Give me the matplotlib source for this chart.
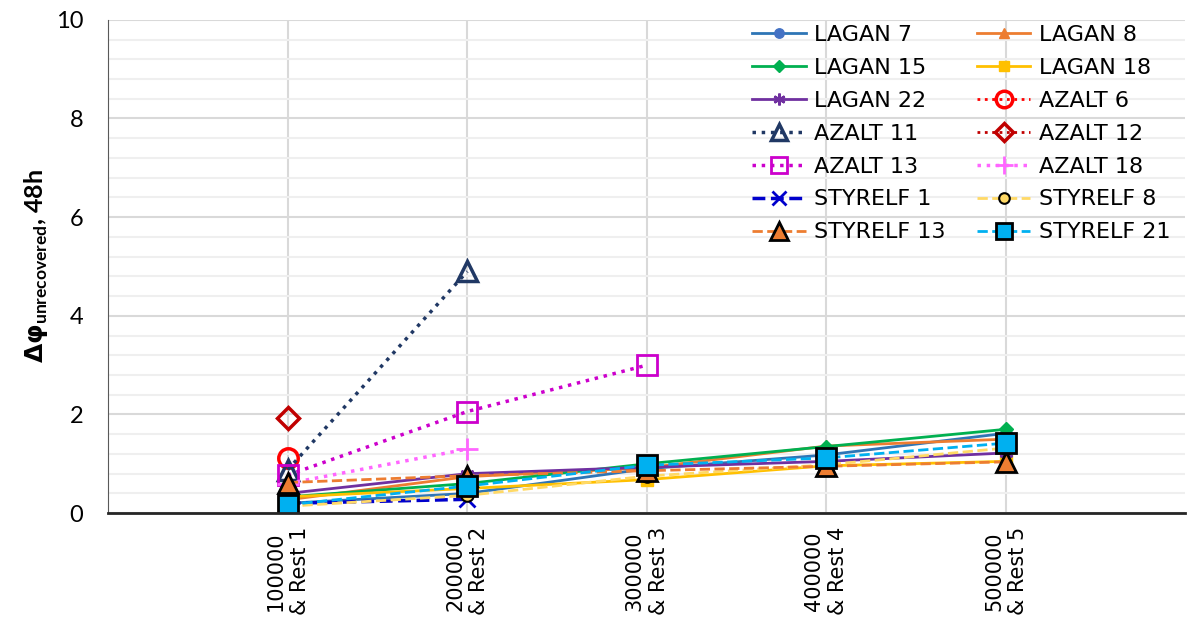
import numpy as np
import matplotlib.pyplot as plt
from matplotlib.ticker import MultipleLocator

nan = np.nan
cats = ["100000\n& Rest 1", "200000\n& Rest 2", "300000\n& Rest 3", "400000\n& Rest 4", "500000\n& Rest 5"]

lagan_7 = [0.20, 0.40, 0.90, 1.18, 1.62]
lagan_8 = [0.27, 0.74, 0.92, 1.36, 1.50]
lagan_15 = [0.33, 0.60, 1.00, 1.35, 1.70]
lagan_18 = [0.33, 0.50, 0.68, 0.96, 1.05]
lagan_22 = [0.40, 0.80, 0.93, 1.05, 1.22]
azalt_6 = [1.12, nan, nan, nan, nan]
azalt_11 = [0.88, 4.90, nan, nan, nan]
azalt_12 = [1.92, nan, nan, nan, nan]
azalt_13 = [0.77, 2.06, 3.00, nan, nan]
azalt_18 = [0.60, 1.30, nan, nan, nan]
styrelf_1 = [0.20, 0.28, nan, nan, nan]
styrelf_8 = [0.14, 0.36, 0.75, 0.98, 1.32]
styrelf_13 = [0.62, 0.76, 0.86, 0.95, 1.04]
styrelf_21 = [0.17, 0.55, 0.97, 1.12, 1.42]

x = np.arange(1, 6)

plt.rcParams['font.family'] = ['DejaVu Sans']
fig = plt.figure(figsize=(11.89, 6.19), dpi=100)
ax = fig.add_axes([0.091, 0.171, 0.906, 0.797])

# solid LAGAN series
ax.plot(x, lagan_7, '-', color='#2E75B6', lw=2, marker='o', ms=8, mfc='#4472C4', mec='#4472C4', label='LAGAN 7')
ax.plot(x, lagan_8, '-', color='#ED7D31', lw=2, marker='^', ms=8, mfc='#ED7D31', mec='#ED7D31', label='LAGAN 8')
ax.plot(x, lagan_15, '-', color='#00B050', lw=2, marker='D', ms=7, mfc='#00B050', mec='#00B050', label='LAGAN 15')
ax.plot(x, lagan_18, '-', color='#FFC000', lw=2, marker='s', ms=8, mfc='#FFC000', mec='#FFC000', label='LAGAN 18')
ax.plot(x, lagan_22, '-', color='#7030A0', lw=2, marker=(6, 2, 0), ms=10, mec='#7030A0', mew=1.8, label='LAGAN 22')
# dotted AZALT series
ax.plot(x, azalt_6, ':', color='#FF0000', lw=2, marker='o', ms=14, mfc='none', mec='#FF0000', mew=2.5, label='AZALT 6')
ax.plot(x, azalt_11, ':', color='#203864', lw=2.5, marker='^', ms=14, mfc='none', mec='#203864', mew=2.5, label='AZALT 11')
ax.plot(x, azalt_12, ':', color='#C00000', lw=2, marker='D', ms=11, mfc='none', mec='#C00000', mew=2.5, label='AZALT 12')
ax.plot(x, azalt_13, ':', color='#CC00CC', lw=2.5, marker='s', ms=14, mfc='none', mec='#CC00CC', mew=2, label='AZALT 13')
ax.plot(x, azalt_18, ':', color='#FF66FF', lw=2.5, marker='+', ms=16, mec='#FF66FF', mew=2, label='AZALT 18')
# dashed STYRELF series
ax.plot(x, styrelf_1, '--', color='#0000CC', lw=2.5, marker='x', ms=12, mec='#0000CC', mew=2, label='STYRELF 1')
ax.plot(x, styrelf_8, '--', color='#FFD966', lw=2, marker='o', ms=9, mfc='#FFD966', mec='black', mew=1.5, label='STYRELF 8')
ax.plot(x, styrelf_13, '--', color='#ED7D31', lw=2, marker='^', ms=15, mfc='#ED7D31', mec='black', mew=2, label='STYRELF 13')
ax.plot(x, styrelf_21, '--', color='#00B0F0', lw=2, marker='s', ms=14, mfc='#00B0F0', mec='black', mew=2, label='STYRELF 21')

ax.set_xlim(0, 6)
ax.set_ylim(0, 10)
ax.set_xticks(x)
ax.set_xticklabels(cats, rotation=90, fontsize=15, linespacing=1.25)
ax.yaxis.set_major_locator(MultipleLocator(2))
ax.yaxis.set_minor_locator(MultipleLocator(0.4))
ax.tick_params(axis='both', length=0, which='both')
ax.tick_params(axis='x', pad=10)
for t in ax.get_yticklabels():
    t.set_fontfamily('Lato')
    t.set_fontsize(17)
ax.tick_params(axis='y', pad=18)

ax.grid(True, which='major', color='#D9D9D9', lw=1.5)
ax.grid(True, which='minor', axis='y', color='#EFEFEF', lw=1.5)
ax.set_axisbelow(True)
for s in ['top', 'right']:
    ax.spines[s].set_visible(False)
ax.spines['left'].set_color('#595959')
ax.spines['bottom'].set_color('#262626')
ax.spines['bottom'].set_linewidth(2)

ax.set_ylabel(r'$\mathbf{\Delta\varphi}_{\mathregular{unrecovered}}$, 48h', fontsize=18,
              fontweight='bold', fontfamily='Lato', labelpad=4)

# legend filled row by row, like the spreadsheet
handles, labels = ax.get_legend_handles_labels()
order = list(range(0, 14, 2)) + list(range(1, 14, 2))
ax.legend([handles[i] for i in order], [labels[i] for i in order],
          loc='upper right', ncol=2, frameon=False, fontsize=16, handlelength=2.4,
          columnspacing=1.4, labelspacing=0.58, handletextpad=0.4, markerscale=0.85,
          bbox_to_anchor=(1.005, 1.03))

fig.savefig('out.png', dpi=100)
